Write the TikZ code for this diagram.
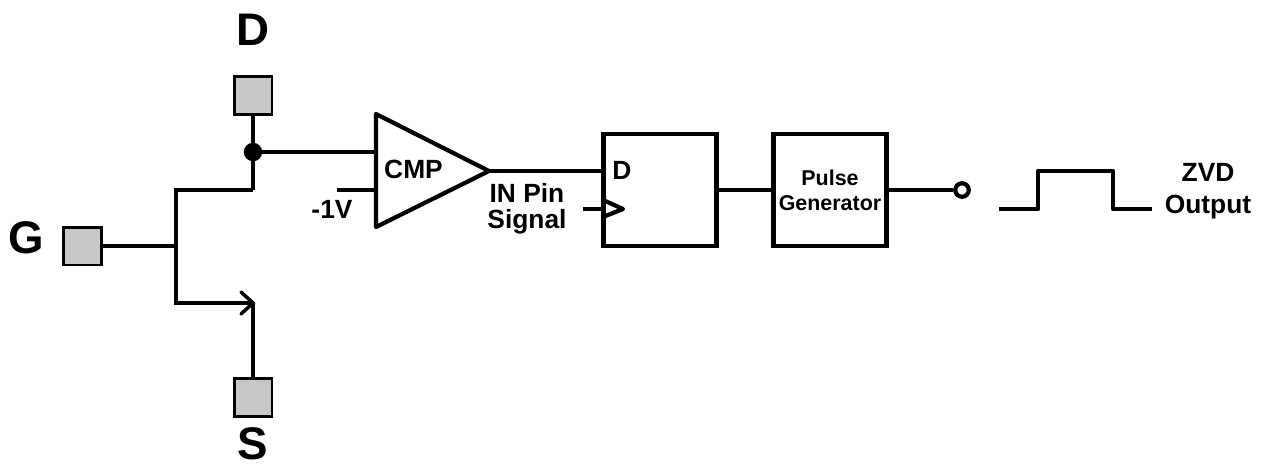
\documentclass[tikz,border=0pt]{standalone}
\usepackage{fontspec}
\setmainfont{Liberation Sans}
\usepackage{tikz}
\usetikzlibrary{arrows}
\usetikzlibrary{decorations.markings}
\tikzset{
    wire/.style={line width=2pt},
    heavywire/.style={line width=2.4pt},
    pad/.style={draw, line width=1.7pt, fill=black!22, minimum size=0.76cm, inner sep=0pt},
    block/.style={draw, line width=2.4pt, minimum width=2.26cm, minimum height=2.24cm, inner sep=0pt},
    pinlabel/.style={font=\fontsize{26}{26}\selectfont\bfseries, inner sep=0pt},
    siglabel/.style={font=\fontsize{15}{15}\selectfont\bfseries, inner sep=0pt, align=center},
    smalllabel/.style={font=\fontsize{12.2}{14.2}\selectfont\bfseries, inner sep=0pt, align=center}
}
\begin{document}
\begin{tikzpicture}[x=0.02cm,y=-0.02cm]
    \useasboundingbox (0,0) rectangle (1261,464);
    %pads
    \node[pad] (padD) at (253,95.5) {};
    \node[pad] (padG) at (82.5,246) {};
    \node[pad] (padS) at (253,397.5) {};
    \node[pinlabel] (labD) at (253,30) {D};
    \node[pinlabel] (labG) at (26,238) {G};
    \node[pinlabel] (labS) at (253,443.5) {S};
    %points
    \coordinate (gjoin) at (176,246);
    \coordinate (gtop) at (176,190);
    \coordinate (gbot) at (176,303);
    \coordinate (dcorner) at (253,190);
    \coordinate (scorner) at (253,303);
    \coordinate (cmptop) at (376,114);
    \coordinate (cmpbot) at (376,227);
    \coordinate (cmptip) at (489,171);
    \coordinate (cmpin) at (376,152);
    \coordinate (cmpref) at (376,190);
    \coordinate (refend) at (337,190);
    \node[circle, fill=black, minimum size=0.37cm, inner sep=0pt, outer sep=-1pt] (dot) at (253,152) {};
    % transistor
    \draw[wire] (padG.east) -- (gjoin);
    \draw[heavywire, line join=miter] (dcorner) -- (gtop) -- (gbot) -- (scorner);
    \draw[wire] (padD.south) -- (dot);
    \draw[wire] (dot) -- (dcorner);
    \draw[wire] (scorner) -- (padS.north);
    \draw[wire, line cap=round] (241,292) -- (scorner) -- (241,314);
    \draw[wire] (dot) -- (cmpin);
    % comparator
    \draw[heavywire, line join=round] (cmptop) -- (cmptip) -- (cmpbot) -- cycle;
    \draw[heavywire] (refend) -- (cmpref);
    \node[siglabel] (labCMP) at (413.5,169) {CMP};
    \node[siglabel] (labref) at (332,209) {-1V};
    % blocks
    \node[block] (ff) at (660,190) {};
    \node[block] (pulse) at (830,190) {};
    \node[smalllabel] (labpulse) at (830,190) {Pulse\\Generator};
    \node[siglabel] (labFF) at (622,170) {D};
    \node[siglabel] (labIN) at (527,209) {IN Pin\\Signal};
    \coordinate (ffD) at (ff.west |- cmptip);
    \coordinate (clkin) at (603,209);
    \coordinate (clkstub) at (583,209);
    \draw[heavywire] (cmptip) -- (ffD);
    \draw[heavywire] (clkstub) -- (clkin);
    \draw[heavywire, line join=round] (603,200) -- (623,209) -- (603,217);
    \draw[heavywire] (ff.east) -- (pulse.west);
    % output
    \node[circle, draw, line width=2.4pt, minimum size=0.27cm, inner sep=0pt] (outpin) at (962,190) {};
    \draw[heavywire] (pulse.east) -- (outpin);
    \coordinate (pstart) at (999,209);
    \coordinate (pend) at (1152,209);
    \draw[heavywire, line join=round] (pstart) -- (1038,209) -- (1038,171) -- (1113,171) -- (1113,209) -- (pend);
    \node[siglabel] (labzvd) at (1208,191) {ZVD\\[3pt]Output};
\end{tikzpicture}
\end{document}
